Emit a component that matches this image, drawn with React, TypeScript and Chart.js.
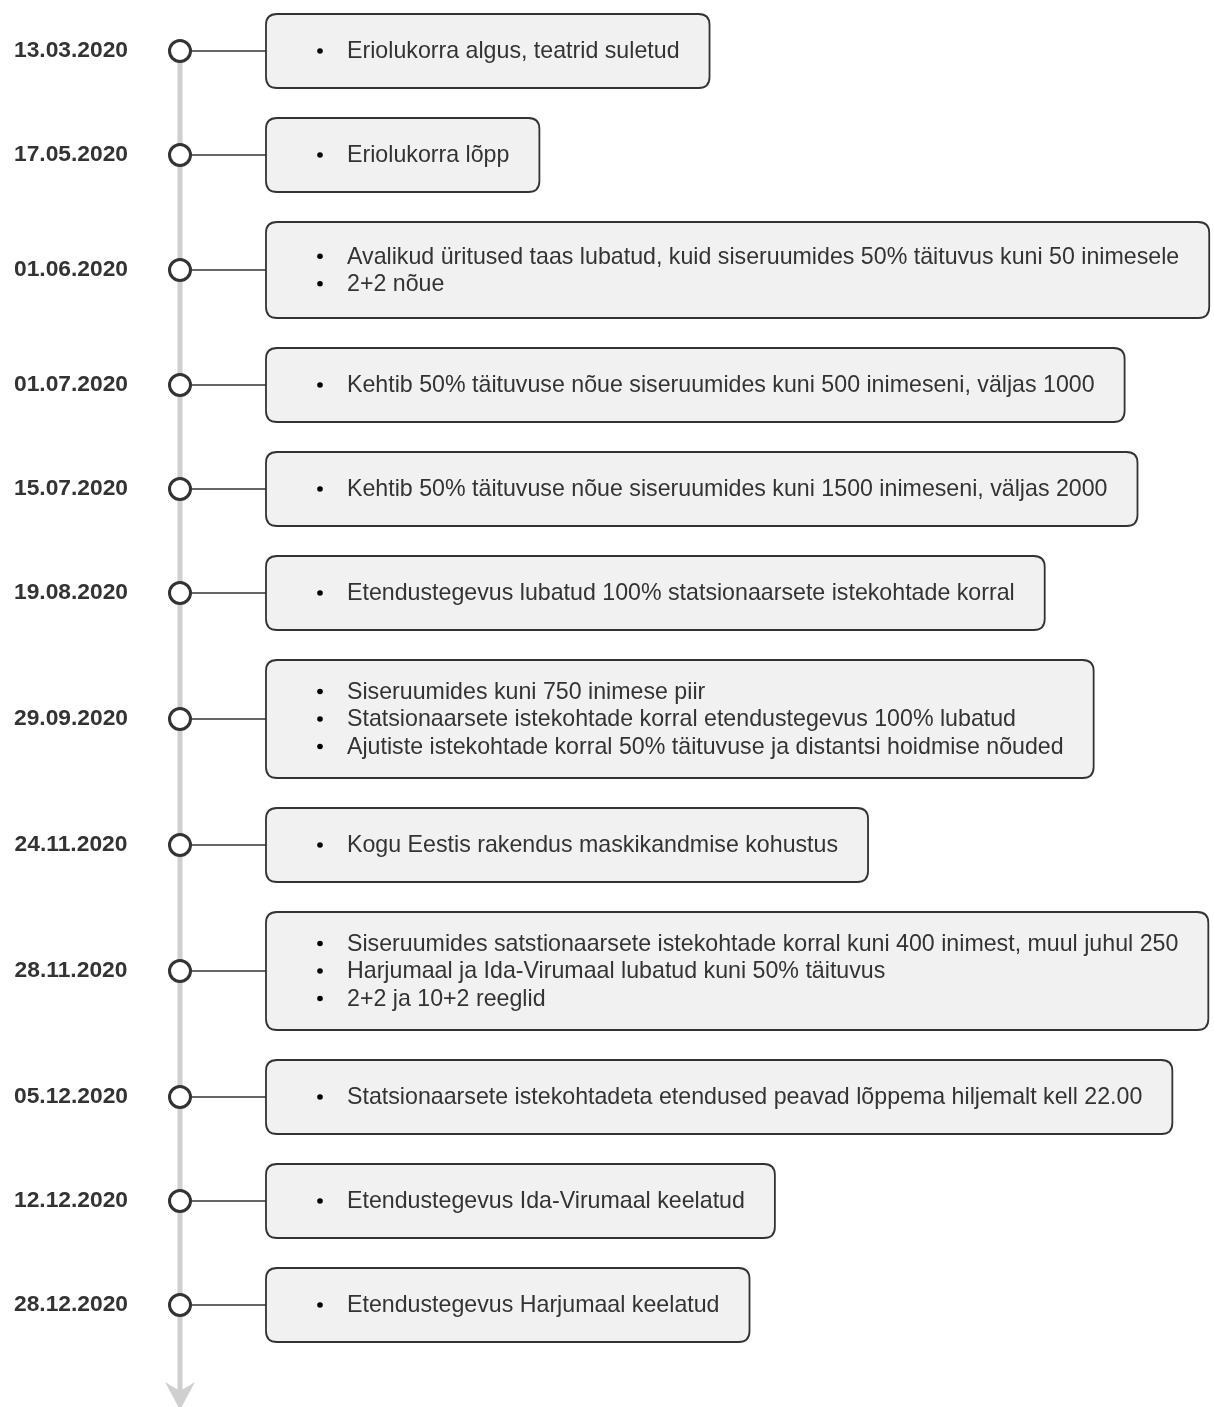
import React, { useEffect, useRef } from "react";
import { Chart, registerables } from "chart.js";

Chart.register(...registerables);

// ---- data ----
const dates: string[] = [
  "13.03.2020",
  "17.05.2020",
  "01.06.2020",
  "01.07.2020",
  "15.07.2020",
  "19.08.2020",
  "29.09.2020",
  "24.11.2020",
  "28.11.2020",
  "05.12.2020",
  "12.12.2020",
  "28.12.2020",
];

const events: string[][] = [
  ["Eriolukorra algus, teatrid suletud"],
  ["Eriolukorra lõpp"],
  [
    "Avalikud üritused taas lubatud, kuid siseruumides 50% täituvus kuni 50 inimesele",
    "2+2 nõue",
  ],
  ["Kehtib 50% täituvuse nõue siseruumides kuni 500 inimeseni, väljas 1000"],
  ["Kehtib 50% täituvuse nõue siseruumides kuni 1500 inimeseni, väljas 2000"],
  ["Etendustegevus lubatud 100% statsionaarsete istekohtade korral"],
  [
    "Siseruumides kuni 750 inimese piir",
    "Statsionaarsete istekohtade korral etendustegevus 100% lubatud",
    "Ajutiste istekohtade korral 50% täituvuse ja distantsi hoidmise nõuded",
  ],
  ["Kogu Eestis rakendus maskikandmise kohustus"],
  [
    "Siseruumides satstionaarsete istekohtade korral kuni 400 inimest, muul juhul 250",
    "Harjumaal ja Ida-Virumaal lubatud kuni 50% täituvus",
    "2+2 ja 10+2 reeglid",
  ],
  ["Statsionaarsete istekohtadeta etendused peavad lõppema hiljemalt kell 22.00"],
  ["Etendustegevus Ida-Virumaal keelatud"],
  ["Etendustegevus Harjumaal keelatud"],
];

// ---- layout (in scale units, 1 unit = 1 px of the canvas) ----
const W = 1214;
const H = 1407;
const LINE_X = 180;
const BOX_LEFT = 266;
const TEXT_X = 347;
const BULLET_X = 320;
const FONT_SIZE = 23.2;
const DATE_FONT_SIZE = 22.8;
const LINE_H = 27.5;
const FONT_FAMILY = '"Liberation Sans", Arial, Helvetica, sans-serif';

const boxHeight = (lines: number) => 52 + 22 * lines;

function computeCenters(): { center: number; top: number; h: number }[] {
  const out: { center: number; top: number; h: number }[] = [];
  let top = 14;
  for (const ev of events) {
    const h = boxHeight(ev.length);
    out.push({ center: top + h / 2, top, h });
    top += h + 30;
  }
  return out;
}

function roundRect(ctx: CanvasRenderingContext2D, x: number, y: number, w: number, h: number, r: number) {
  ctx.beginPath();
  ctx.moveTo(x + r, y);
  ctx.lineTo(x + w - r, y);
  ctx.quadraticCurveTo(x + w, y, x + w, y + r);
  ctx.lineTo(x + w, y + h - r);
  ctx.quadraticCurveTo(x + w, y + h, x + w - r, y + h);
  ctx.lineTo(x + r, y + h);
  ctx.quadraticCurveTo(x, y + h, x, y + h - r);
  ctx.lineTo(x, y + r);
  ctx.quadraticCurveTo(x, y, x + r, y);
  ctx.closePath();
}

export default function App() {
  const ref = useRef<HTMLCanvasElement | null>(null);

  useEffect(() => {
    if (!ref.current) return;
    const layout = computeCenters();

    const timelinePlugin = {
      id: "timeline",
      beforeDatasetsDraw(chart: any) {
        const ctx: CanvasRenderingContext2D = chart.ctx;
        const xs = chart.scales.x;
        const ys = chart.scales.y;
        const lx = xs.getPixelForValue(LINE_X);
        ctx.save();
        // grey vertical axis with arrow
        const yTop = ys.getPixelForValue(layout[0].center);
        const yEnd = ys.getPixelForValue(1394);
        ctx.strokeStyle = "#cfcfcf";
        ctx.lineWidth = 5;
        ctx.beginPath();
        ctx.moveTo(lx, yTop);
        ctx.lineTo(lx, yEnd);
        ctx.stroke();
        ctx.fillStyle = "#cfcfcf";
        ctx.beginPath();
        ctx.moveTo(lx, ys.getPixelForValue(1410));
        ctx.lineTo(lx - 15, ys.getPixelForValue(1382));
        ctx.lineTo(lx, ys.getPixelForValue(1391));
        ctx.lineTo(lx + 15, ys.getPixelForValue(1382));
        ctx.closePath();
        ctx.fill();

        // boxes
        events.forEach((ev, i) => {
          ctx.font = `${FONT_SIZE}px ${FONT_FAMILY}`;
          const L = layout[i];
          const cy = ys.getPixelForValue(L.center);
          const top = ys.getPixelForValue(L.top);
          const bottom = ys.getPixelForValue(L.top + L.h);
          const bx = xs.getPixelForValue(BOX_LEFT);
          const tx = xs.getPixelForValue(TEXT_X);
          let maxW = 0;
          ev.forEach((t) => (maxW = Math.max(maxW, ctx.measureText(t).width)));
          const right = Math.min(tx + maxW + 30, xs.getPixelForValue(1213));
          // connector
          ctx.strokeStyle = "#333333";
          ctx.lineWidth = 1.5;
          ctx.beginPath();
          ctx.moveTo(lx, cy);
          ctx.lineTo(bx, cy);
          ctx.stroke();
          // box
          roundRect(ctx, bx, top, right - bx, bottom - top, 11);
          ctx.fillStyle = "#f1f1f1";
          ctx.fill();
          ctx.lineWidth = 1.8;
          ctx.strokeStyle = "#333333";
          ctx.stroke();
          // text
          const n = ev.length;
          ev.forEach((t, k) => {
            const y = cy + (k - (n - 1) / 2) * LINE_H;
            ctx.fillStyle = "#000";
            ctx.beginPath();
            ctx.arc(xs.getPixelForValue(BULLET_X), y, 2.8, 0, Math.PI * 2);
            ctx.fill();
            ctx.fillStyle = "#333333";
            ctx.textBaseline = "middle";
            ctx.textAlign = "left";
            ctx.fillText(t, tx, y + 1);
          });
          // date label
          ctx.font = `bold ${DATE_FONT_SIZE}px ${FONT_FAMILY}`;
          ctx.fillStyle = "#333333";
          ctx.textAlign = "center";
          ctx.textBaseline = "middle";
          ctx.fillText(dates[i], xs.getPixelForValue(71), cy);
        });
        ctx.restore();
      },
    };

    const chart = new Chart(ref.current, {
      type: "scatter",
      data: {
        datasets: [
          {
            data: layout.map((L) => ({ x: LINE_X, y: L.center })),
            pointRadius: 10.5,
            pointHoverRadius: 10.5,
            pointBorderWidth: 3,
            pointBackgroundColor: "#ffffff",
            pointBorderColor: "#333333",
            clip: false as any,
          },
        ],
      },
      options: {
        animation: false,
        responsive: true,
        maintainAspectRatio: false,
        layout: { padding: 0, autoPadding: false },
        plugins: { legend: { display: false }, tooltip: { enabled: false } },
        events: [],
        scales: {
          x: { type: "linear", min: 0, max: W, display: false },
          y: { type: "linear", min: 0, max: H, reverse: true, display: false },
        },
      },
      plugins: [timelinePlugin],
    });
    return () => chart.destroy();
  }, []);

  return (
    <div style={{ position: "absolute", left: 0, top: 0, width: W, height: H, background: "#fff" }}>
      <canvas ref={ref} />
    </div>
  );
}
